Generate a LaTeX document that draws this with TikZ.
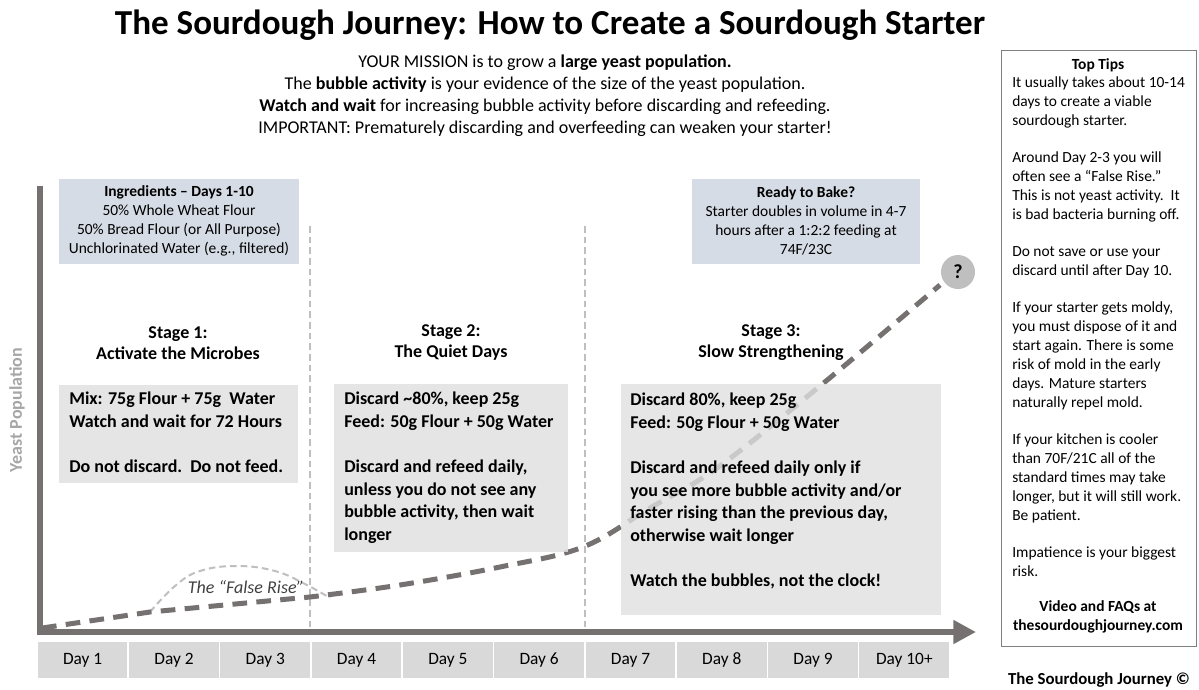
\documentclass[tikz,border=0pt]{standalone}
\usepackage{fontspec}
\setmainfont{Carlito}
\usetikzlibrary{arrows.meta}
\definecolor{axisgray}{HTML}{767171}
\definecolor{guidegray}{HTML}{BFBFBF}
\definecolor{stagefill}{HTML}{E0E0E0}
\definecolor{dayfill}{HTML}{D9D9D9}
\definecolor{infofill}{HTML}{D6DCE5}
\definecolor{ylabelgray}{HTML}{A6A6A6}
\definecolor{tipsline}{HTML}{7F7F7F}
\begin{document}
\begin{tikzpicture}[x=0.75pt,y=-0.75pt,line width=0.4pt,every node/.style={inner sep=0pt},
  headtext/.style={font=\bfseries\fontsize{13.5}{15.75}\selectfont,align=center},
  stagetext/.style={font=\bfseries\fontsize{13.5}{16.9}\selectfont,align=left,anchor=north west},
  infotext/.style={font=\fontsize{11.6}{14.2}\selectfont,align=center},
  tipstext/.style={font=\fontsize{11.6}{14.25}\selectfont,align=left,anchor=north west},
  daybox/.style={fill=dayfill,draw=white,line width=1.2pt,minimum width=68.5pt,minimum height=27.75pt,font=\fontsize{13}{15}\selectfont},
  guide/.style={guidegray,line width=1.5pt,dash pattern=on 5pt off 3pt}]
\useasboundingbox (0,0) rectangle (1199,689);
\coordinate (Ytop) at (40,186);
\coordinate (Ybot) at (40,635);
\coordinate (Xstart) at (37,632);
\coordinate (Xtip) at (976,632);
\coordinate (D1) at (42,628);
\coordinate (D2) at (150,612);
\coordinate (Q) at (940,285);
\node (title) at (550,25) {\bfseries\fontsize{26.3}{30}\selectfont The Sourdough Journey: How to Create a Sourdough Starter};
\node (mission) [align=center,font=\fontsize{13.5}{16.5}\selectfont] at (545,96) {YOUR MISSION is to grow a \textbf{large yeast population.}\\
  The \textbf{bubble activity} is your evidence of the size of the yeast population.\\
  \textbf{Watch and wait} for increasing bubble activity before discarding and refeeding.\\
  IMPORTANT: Prematurely discarding and overfeeding can weaken your starter!};
\fill[infofill] (59,179) rectangle (299,264);
\fill[infofill] (692,179) rectangle (920,264);
\node (ingredients) [infotext] at (179,221) {\textbf{Ingredients -- Days 1-10}\\50\% Whole Wheat Flour\\50\% Bread Flour (or All Purpose)\\Unchlorinated Water (e.g., filtered)};
\node (ready) [infotext] at (806,221) {\textbf{Ready to Bake?}\\Starter doubles in volume in 4-7\\hours after a 1:2:2 feeding at\\74F/23C};
\draw[guide] (310,226) -- (310,632);
\draw[guide] (585,226) -- (585,632);
\draw[guide] plot[smooth,tension=0.7] coordinates {(D2) (175,586) (200,571) (237,566) (275,571) (305,584) (330,598)};
\node (falserise) [font=\itshape\fontsize{13.5}{15}\selectfont,text=black!75] at (246,587) {The “False Rise”};
\draw[axisgray,line width=3.75pt,dash pattern=on 11pt off 7pt] (D1) -- (D2) -- plot[smooth,tension=0.6] coordinates {(310,597) (400,585) (500,567) (583,547) (650,508) (717,468) (820,386) (Q)};
\node (ask) [circle,fill=guidegray,minimum size=25.5pt,font=\bfseries\fontsize{15}{17}\selectfont] at (958,272) {?};
\fill[stagefill,fill opacity=0.85] (59,385) rectangle (298,483);
\fill[stagefill,fill opacity=0.85] (334,384) rectangle (568,552);
\fill[stagefill,fill opacity=0.8] (621,384) rectangle (941,615);
\node (s1head) [headtext] at (178,343) {Stage 1:\\Activate the Microbes};
\node (s2head) [headtext] at (451,343) {Stage 2:\\The Quiet Days};
\node (s3head) [headtext] at (771,343) {Stage 3:\\Slow Strengthening};
\node (s1text) [stagetext] at (69,392) {Mix: 75g Flour + 75g\ \ Water\\Watch and wait for 72 Hours\\[16.9pt]Do not discard.\ \ Do not feed.};
\node (s2text) [stagetext] at (344,392) {Discard \textasciitilde80\%, keep 25g\\Feed: 50g Flour + 50g Water\\[16.9pt]Discard and refeed daily,\\unless you do not see any\\bubble activity, then wait\\longer};
\node (s3text) [stagetext] at (630,393) {Discard 80\%, keep 25g\\Feed: 50g Flour + 50g Water\\[16.9pt]Discard and refeed daily only if\\you see more bubble activity and/or\\faster rising than the previous day,\\otherwise wait longer\\[16.9pt]Watch the bubbles, not the clock!};
\draw[axisgray,line width=4.5pt] (Ytop) -- (Ybot);
\draw[axisgray,line width=4.5pt,-{Triangle[length=17pt,width=17pt]}] (Xstart) -- (Xtip);
\node (ylabel) [rotate=90,font=\bfseries\fontsize{13.5}{15}\selectfont,text=ylabelgray] at (17,410) {Yeast Population};
\foreach \lbl [count=\i] in {Day 1,Day 2,Day 3,Day 4,Day 5,Day 6,Day 7,Day 8,Day 9,Day 10+}
  \node (day\i) [daybox] at ({37+(\i-0.5)*91.3},660) {\lbl};
\draw[tipsline,line width=0.75pt] (1001,50) rectangle (1196,646);
\node (tipshead) [font=\bfseries\fontsize{11.6}{14}\selectfont] at (1098,65) {Top Tips};
\node (tipsbody) [tipstext] at (1012,76) {It usually takes about 10-14\\days to create a viable\\sourdough starter.\\[13.5pt]Around Day 2-3 you will\\often see a “False Rise.”\\This is not yeast activity.\ \ It\\is bad bacteria burning off.\\[13.5pt]Do not save or use your\\discard until after Day 10.\\[13.5pt]If your starter gets moldy,\\you must dispose of it and\\start again. There is some\\risk of mold in the early\\days. Mature starters\\naturally repel mold.\\[13.5pt]If your kitchen is cooler\\than 70F/21C all of the\\standard times may take\\longer, but it will still work.\\Be patient.\\[13.5pt]Impatience is your biggest\\risk.};
\node (tipsfoot) [font=\bfseries\fontsize{11.6}{14.25}\selectfont,align=center] at (1098,617) {Video and FAQs at\\thesourdoughjourney.com};
\node (credit) [font=\bfseries\fontsize{12.6}{14}\selectfont] at (1099,680) {The Sourdough Journey ©};
\end{tikzpicture}
\end{document}
